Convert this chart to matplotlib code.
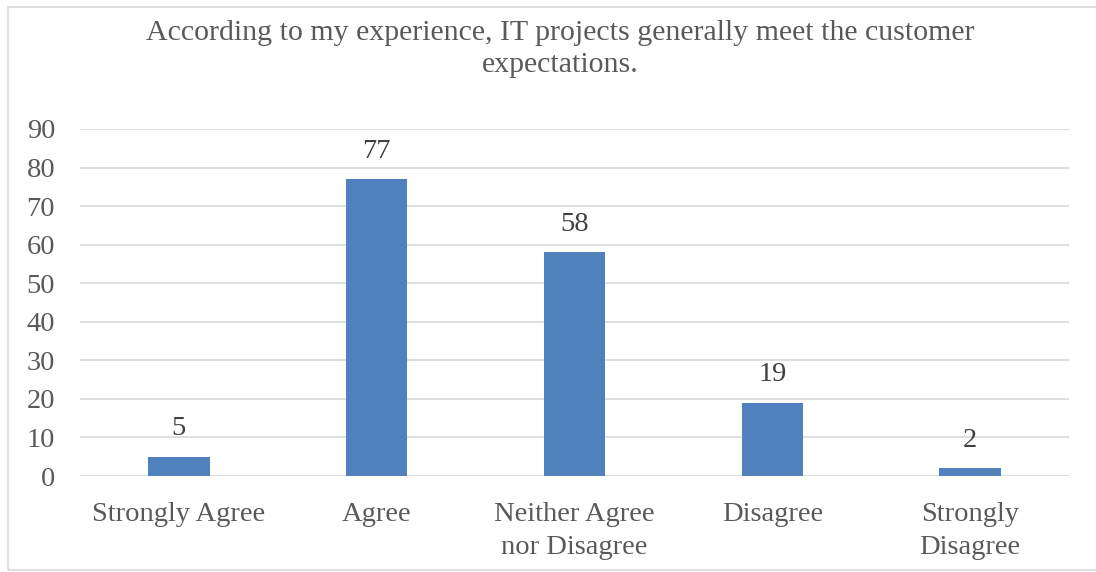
import matplotlib
matplotlib.use("Agg")
import matplotlib.pyplot as plt
from matplotlib.patches import Rectangle

categories = ["Strongly Agree", "Agree", "Neither Agree\nnor Disagree", "Disagree", "Strongly\nDisagree"]
values = [5, 77, 58, 19, 2]
yticks = [0, 10, 20, 30, 40, 50, 60, 70, 80, 90]
title = "According to my experience, IT projects generally meet the customer\nexpectations."

plt.rcParams['font.family'] = ['Liberation Serif', 'DejaVu Serif']
W, H = 1096, 572
fig = plt.figure(figsize=(W/100, H/100), dpi=100)
fig.patch.set_facecolor('white')

# chart border
fig.patches.append(Rectangle((8/W, 1 - 570/H), (W + 20)/W, (570 - 7)/H, transform=fig.transFigure,
                             fill=False, edgecolor='#D9D9D9', linewidth=1.2))

left, right = 80, 1069
top, bottom = 129, 476
ax = fig.add_axes([left/W, 1 - bottom/H, (right-left)/W, (bottom-top)/H])
x = list(range(len(categories)))
bars = ax.bar(x, values, width=0.31, color='#4F81BD', zorder=3)
ax.set_xlim(-0.5, len(categories) - 0.5)
ax.set_ylim(0, 90)
ax.set_yticks(yticks)
ax.set_xticks(x)
ax.set_xticklabels(categories, linespacing=1.4)
ax.grid(axis='y', color='#D9D9D9', linewidth=1.2, zorder=0)
for s in ax.spines.values():
    s.set_visible(False)
ax.tick_params(axis='both', length=0, labelsize=20.5, colors='#595959')
ax.tick_params(axis='y', pad=18)
ax.tick_params(axis='x', pad=19)
for lbl in ax.get_yticklabels():
    lbl.set_horizontalalignment('right')
for b, v in zip(bars, values):
    ax.annotate(str(v), (b.get_x() + b.get_width()/2, v), xytext=(0, 11), textcoords='offset points',
                ha='center', va='bottom', fontsize=20.5, color='#404040')

fig.text(560/W, 1 - 49/H, title, ha='center', va='center', fontsize=21.5, color='#595959',
         linespacing=1.3)

fig.savefig('out.png', dpi=100, facecolor='white')
